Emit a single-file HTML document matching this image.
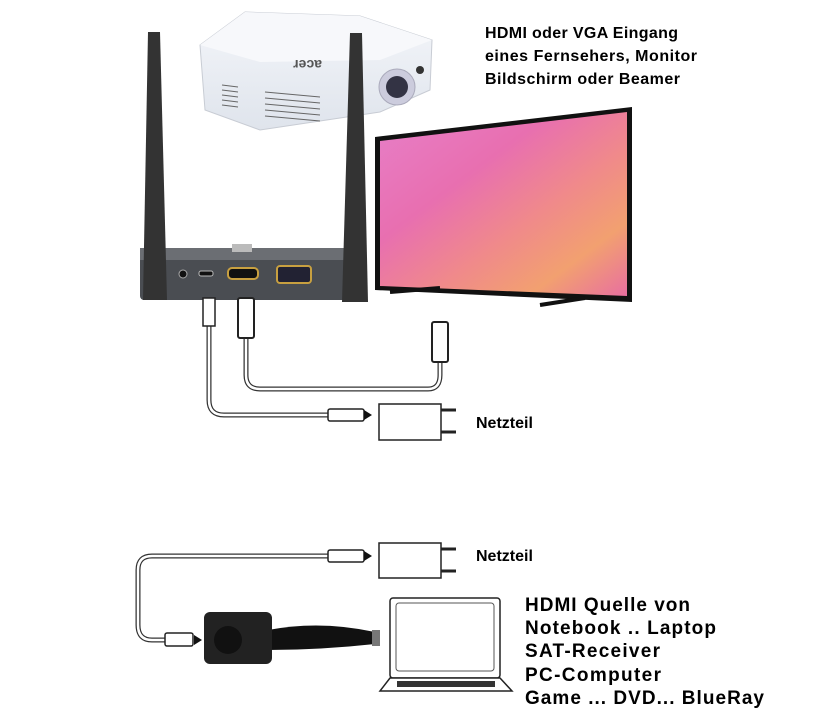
<!DOCTYPE html>
<html><head><meta charset="utf-8"><style>
html,body{margin:0;padding:0;background:#fff;width:827px;height:709px;overflow:hidden}
svg{display:block}
text{font-family:"Liberation Sans",Arial,sans-serif;font-weight:bold;fill:#000}
</style></head><body>
<svg width="827" height="709" viewBox="0 0 827 709" xmlns="http://www.w3.org/2000/svg">
<defs>
<linearGradient id="tv" x1="0" y1="0" x2="1" y2="1">
<stop offset="0" stop-color="#e77fc8"/><stop offset="0.35" stop-color="#e86fb0"/>
<stop offset="0.6" stop-color="#f08a8a"/><stop offset="0.8" stop-color="#f2a070"/><stop offset="1" stop-color="#e86fa0"/>
</linearGradient>
<linearGradient id="proj" x1="0" y1="0" x2="0" y2="1">
<stop offset="0" stop-color="#f4f6fa"/><stop offset="1" stop-color="#dfe4ec"/>
</linearGradient>
</defs>

<!-- projector -->
<polygon points="200,45 245,12 360,16 432,40 430,90 380,112 260,130 205,110" fill="url(#proj)" stroke="#c8ccd4"/>
<polygon points="200,45 245,12 360,16 432,40 380,60 260,62" fill="#f7f8fb"/>
<g stroke="#666" stroke-width="1">
<line x1="222" y1="85" x2="238" y2="87"/><line x1="222" y1="90" x2="238" y2="92"/><line x1="222" y1="95" x2="238" y2="97"/><line x1="222" y1="100" x2="238" y2="102"/><line x1="222" y1="105" x2="238" y2="107"/>
<line x1="265" y1="92" x2="320" y2="97"/><line x1="265" y1="98" x2="320" y2="103"/><line x1="265" y1="104" x2="320" y2="109"/><line x1="265" y1="110" x2="320" y2="115"/><line x1="265" y1="116" x2="320" y2="121"/>
</g>
<circle cx="397" cy="87" r="18" fill="#ccd" stroke="#aab"/>
<circle cx="397" cy="87" r="11" fill="#334"/>
<circle cx="420" cy="70" r="4" fill="#333"/>
<text x="298" y="68" font-size="14" transform="rotate(180 310 64)" style="fill:#555">acer</text>

<!-- TV -->
<polygon points="375,137 632,107 632,302 375,290" fill="#111"/>
<polygon points="380,141 627,112 627,296 380,286" fill="url(#tv)"/>
<line x1="390" y1="292" x2="440" y2="288" stroke="#111" stroke-width="4"/>
<line x1="540" y1="305" x2="585" y2="298" stroke="#111" stroke-width="4"/>

<!-- receiver box -->
<rect x="140" y="248" width="210" height="52" rx="4" fill="#4a4d52"/>
<rect x="140" y="248" width="210" height="12" fill="#6b6e73"/>
<rect x="232" y="244" width="20" height="8" fill="#bbb"/>
<circle cx="183" cy="274" r="4" fill="#111" stroke="#aaa"/>
<rect x="199" y="271" width="14" height="5" rx="2" fill="#111" stroke="#bbb"/>
<rect x="228" y="268" width="30" height="11" rx="4" fill="#111" stroke="#c8a040" stroke-width="2"/>
<rect x="277" y="266" width="34" height="17" rx="3" fill="#223" stroke="#c8a040" stroke-width="2"/>
<!-- antennas -->
<polygon points="148,32 160,32 167,300 143,300" fill="#333"/>
<polygon points="350,33 362,33 368,302 342,302" fill="#333"/>

<!-- cables top -->
<g fill="none" stroke="#333" stroke-width="5" stroke-linecap="round">
<path d="M209,320 V400 Q209,415 224,415 H330"/>
<path d="M246,335 V375 Q246,389 260,389 H428 Q440,389 440,375 V360"/>
</g>
<g fill="none" stroke="#fff" stroke-width="2.5">
<path d="M209,320 V400 Q209,415 224,415 H330"/>
<path d="M246,335 V375 Q246,389 260,389 H428 Q440,389 440,375 V360"/>
</g>
<rect x="203" y="298" width="12" height="28" fill="#fff" stroke="#222" stroke-width="1.5"/>
<rect x="238" y="298" width="16" height="40" rx="2" fill="#fff" stroke="#222" stroke-width="2"/>
<rect x="432" y="322" width="16" height="40" rx="2" fill="#fff" stroke="#222" stroke-width="2"/>
<rect x="328" y="409" width="36" height="12" rx="2" fill="#fff" stroke="#222" stroke-width="1.5"/>
<polygon points="364,410 372,415 364,420" fill="#111"/>
<rect x="379" y="404" width="62" height="36" fill="#fff" stroke="#222" stroke-width="1.5"/>
<line x1="441" y1="410" x2="456" y2="410" stroke="#222" stroke-width="3"/>
<line x1="441" y1="432" x2="456" y2="432" stroke="#222" stroke-width="3"/>

<!-- bottom cable -->
<g fill="none" stroke="#333" stroke-width="5">
<path d="M330,556 H152 Q138,556 138,570 V625 Q138,640 152,640 H170"/>
</g>
<g fill="none" stroke="#fff" stroke-width="2.5">
<path d="M330,556 H152 Q138,556 138,570 V625 Q138,640 152,640 H170"/>
</g>
<rect x="328" y="550" width="36" height="12" rx="2" fill="#fff" stroke="#222" stroke-width="1.5"/>
<polygon points="364,551 372,556 364,561" fill="#111"/>
<rect x="379" y="543" width="62" height="35" fill="#fff" stroke="#222" stroke-width="1.5"/>
<line x1="441" y1="549" x2="456" y2="549" stroke="#222" stroke-width="3"/>
<line x1="441" y1="571" x2="456" y2="571" stroke="#222" stroke-width="3"/>
<rect x="165" y="633" width="28" height="13" rx="2" fill="#fff" stroke="#222" stroke-width="1.5"/>
<polygon points="194,635 202,640 194,645" fill="#111"/>
<!-- dongle -->
<path d="M268,630 Q320,620 375,632 L375,644 Q320,650 268,650 Z" fill="#111"/>
<rect x="372" y="630" width="8" height="16" fill="#777"/>
<rect x="204" y="612" width="68" height="52" rx="6" fill="#222"/>
<circle cx="228" cy="640" r="14" fill="#111"/>

<!-- laptop -->
<rect x="390" y="598" width="110" height="80" rx="3" fill="#fff" stroke="#222" stroke-width="1.5"/>
<rect x="396" y="603" width="98" height="68" rx="3" fill="#fff" stroke="#555" stroke-width="1"/>
<polygon points="390,678 500,678 512,691 380,691" fill="#fff" stroke="#222" stroke-width="1.5"/>
<rect x="397" y="681" width="98" height="6" fill="#333"/>

<!-- text -->
<text x="485" y="38" font-size="16" textLength="193">HDMI oder VGA Eingang</text>
<text x="485" y="61" font-size="16" textLength="212">eines Fernsehers, Monitor</text>
<text x="485" y="84" font-size="16" textLength="195">Bildschirm oder Beamer</text>
<text x="476" y="428" font-size="16">Netzteil</text>
<text x="476" y="561" font-size="16">Netzteil</text>
<g font-size="19">
<text x="525" y="611" textLength="165">HDMI Quelle von</text>
<text x="525" y="634" textLength="191">Notebook .. Laptop</text>
<text x="525" y="657" textLength="135">SAT-Receiver</text>
<text x="525" y="681" textLength="136">PC-Computer</text>
<text x="525" y="704" textLength="239">Game ... DVD... BlueRay</text>
</g>
</svg>
</body></html>
